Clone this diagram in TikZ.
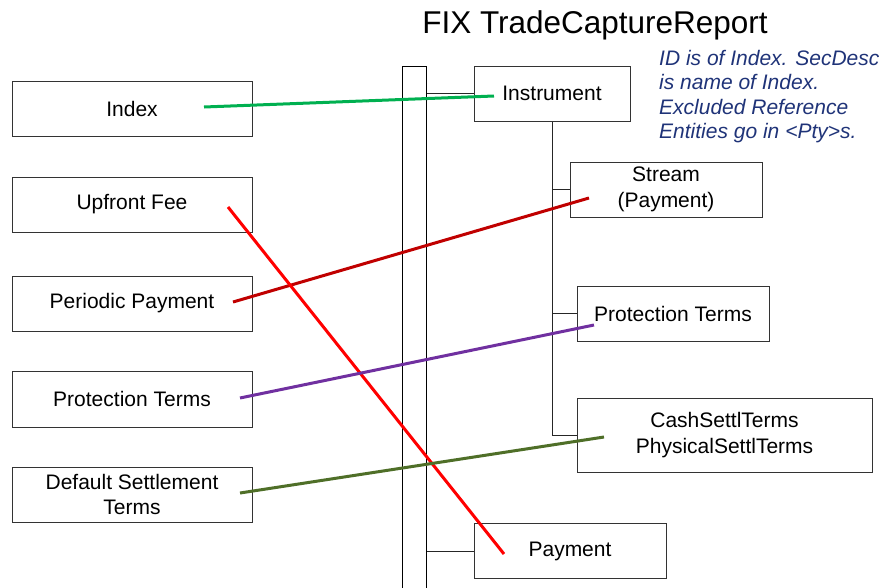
\documentclass[tikz,border=0pt]{standalone}
\usepackage{fontspec}
\setmainfont{Liberation Sans}
\begin{document}
\begin{tikzpicture}[x=1pt,y=-1pt,
  box/.style={draw=black!80, line width=1pt, fill=white, inner sep=0pt, align=center,
    font=\fontsize{21}{25.5}\selectfont},
  tree/.style={draw=black!85, line width=1pt},
  link/.style={line width=3pt}]
\useasboundingbox (0,0) rectangle (886,587);
% left boxes
\node[box, minimum width=240pt, minimum height=55pt] (index) at (132,108.5) {Index};
\node[box, minimum width=240pt, minimum height=55pt] (upfront) at (132,204.5) {Upfront Fee};
\node[box, minimum width=240pt, minimum height=55pt] (periodic) at (132,303.5) {Periodic Payment};
\node[box, minimum width=240pt, minimum height=56pt] (protL) at (132,399) {Protection Terms};
\node[box, minimum width=240pt, minimum height=55pt] (dst) at (132,494.5) {Default Settlement\\Terms};
% bar
\node[draw=black, line width=1pt, minimum width=24pt, minimum height=530pt, inner sep=0pt, anchor=north west] (bar) at (402,66) {};
% right boxes
\node[box, minimum width=156pt, minimum height=55pt] (instr) at (552,93.5) {Instrument};
\node[box, minimum width=192pt, minimum height=55pt] (stream) at (666,189.5) {Stream\\(Payment)};
\node[box, minimum width=192pt, minimum height=55pt] (protR) at (673,313.5) {Protection Terms};
\node[box, minimum width=295pt, minimum height=74pt] (settl) at (724.5,435) {CashSettlTerms\\PhysicalSettlTerms};
\node[box, minimum width=192pt, minimum height=55pt] (payment) at (570,551) {Payment};
% title and note
\node[font=\fontsize{31.5}{36}\selectfont, anchor=base] (title) at (595,33) {FIX TradeCaptureReport};
\node[font=\fontsize{21}{24.3}\selectfont\itshape, text={rgb,255:red,31;green,51;blue,120}, align=left, anchor=north west, inner sep=0pt] (note) at (659,50)
  {ID is of Index. SecDesc\\is name of Index.\\Excluded Reference\\Entities go in <Pty>s.};
% tree connectors
\coordinate (trunkEnd) at (552,435);
\draw[tree] (instr.south) -- (trunkEnd);
\draw[tree] (stream.west -| instr.south) -- (stream.west);
\draw[tree] (protR.west -| instr.south) -- (protR.west);
\draw[tree] (trunkEnd) -- (settl.west);
\draw[tree] (bar.east |- instr.west) -- (instr.west);
\draw[tree] (bar.east |- payment.west) -- (payment.west);
% coloured links
\coordinate (g1) at (204,107); \coordinate (g2) at (494,96);
\coordinate (r1) at (233,302); \coordinate (r2) at (589,198);
\coordinate (u1) at (228,207); \coordinate (u2) at (504,554);
\coordinate (p1) at (240,398); \coordinate (p2) at (594,325);
\coordinate (d1) at (240,493); \coordinate (d2) at (604,437);
\draw[link, draw={rgb,255:red,0;green,176;blue,80}] (g1) -- (g2);
\draw[link, draw={rgb,255:red,192;green,0;blue,0}] (r1) -- (r2);
\draw[link, draw={rgb,255:red,255;green,0;blue,0}] (u1) -- (u2);
\draw[link, draw={rgb,255:red,112;green,48;blue,160}] (p1) -- (p2);
\draw[link, draw={rgb,255:red,79;green,111;blue,40}] (d1) -- (d2);
\end{tikzpicture}
\end{document}
